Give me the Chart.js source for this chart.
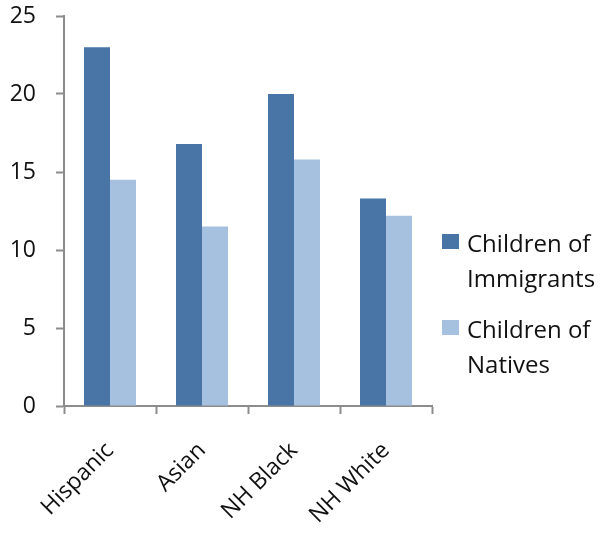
<!DOCTYPE html>
<html lang="en">
<head>
    <meta charset="UTF-8">
    <title>Children of Immigrants vs Natives</title>
    <script src="https://cdn.jsdelivr.net/npm/chart.js"></script>
    <style>
        html, body {
            margin: 0;
            padding: 0;
            background: #fff;
            font-family: "Open Sans", Arial, sans-serif;
        }
        .wrap {
            position: relative;
            width: 601px;
            height: 537px;
        }
        .legend {
            position: absolute;
            left: 442px;
            top: 225px;
            font-size: 24px;
            line-height: 35px;
            color: #111;
        }
        .legend .item {
            display: flex;
            align-items: flex-start;
            margin-bottom: 16px;
        }
        .legend .box {
            width: 17px;
            height: 15px;
            margin-top: 9px;
            margin-right: 8px;
            flex: none;
        }
    </style>
</head>
<body>
    <div class="wrap">
        <canvas id="chart" width="601" height="537"></canvas>
        <div class="legend" id="legend"></div>
    </div>

    <script>
        const categories = ['Hispanic', 'Asian', 'NH Black', 'NH White'];
        const immigrants = [23, 16.8, 20, 13.3];
        const natives = [14.5, 11.5, 15.8, 12.2];
        const yTicks = [0, 5, 10, 15, 20, 25];

        const seriesNames = [['Children of', 'Immigrants'], ['Children of', 'Natives']];
        const colors = ['#4874a6', '#a6c0df'];

        // html legend, two-line labels like the original
        const legend = document.getElementById('legend');
        seriesNames.forEach(function(name, i) {
            const item = document.createElement('div');
            item.className = 'item';
            item.innerHTML = '<span class="box" style="background:' + colors[i] + '"></span><span>' + name.join('<br>') + '</span>';
            legend.appendChild(item);
        });

        const axisGrey = '#8c8c8c';
        const tickFont = { family: '"Open Sans", Arial, sans-serif', size: 23 };
        const ctx = document.getElementById('chart').getContext('2d');
        new Chart(ctx, {
            type: 'bar',
            data: {
                labels: categories,
                datasets: [{
                    label: seriesNames[0].join(' '),
                    data: immigrants,
                    backgroundColor: colors[0],
                    categoryPercentage: 0.565,
                    barPercentage: 1
                }, {
                    label: seriesNames[1].join(' '),
                    data: natives,
                    backgroundColor: colors[1],
                    categoryPercentage: 0.565,
                    barPercentage: 1
                }]
            },
            options: {
                responsive: false,
                animation: false,
                layout: {
                    padding: { left: 0, right: 169, top: 16, bottom: 0 }
                },
                plugins: {
                    legend: { display: false },
                    tooltip: { enabled: false }
                },
                scales: {
                    x: {
                        // fixed axis box so the plot area lands where the original's does
                        afterFit: function(axis) {
                            axis.height = 131;
                            axis.paddingLeft = 0;
                            axis.paddingRight = 0;
                        },
                        grid: {
                            display: true,
                            offset: true,
                            drawOnChartArea: false,
                            drawTicks: true,
                            tickLength: 8,
                            tickColor: axisGrey,
                            tickWidth: 2
                        },
                        border: { color: axisGrey, width: 2 },
                        ticks: {
                            color: '#111',
                            font: tickFont,
                            minRotation: 45,
                            maxRotation: 45,
                            padding: 23
                        }
                    },
                    y: {
                        min: 0,
                        max: 25,
                        afterBuildTicks: function(axis) {
                            axis.ticks = yTicks.map(function(v) { return { value: v }; });
                        },
                        afterFit: function(axis) {
                            axis.width = 64;
                            axis.paddingTop = 0;
                            axis.paddingBottom = 0;
                        },
                        grid: {
                            display: true,
                            drawOnChartArea: false,
                            drawTicks: true,
                            tickLength: 8,
                            tickColor: axisGrey,
                            tickWidth: 2
                        },
                        border: { color: axisGrey, width: 2 },
                        ticks: {
                            color: '#111',
                            font: tickFont,
                            padding: 20
                        }
                    }
                }
            }
        });
    </script>
</body>
</html>
